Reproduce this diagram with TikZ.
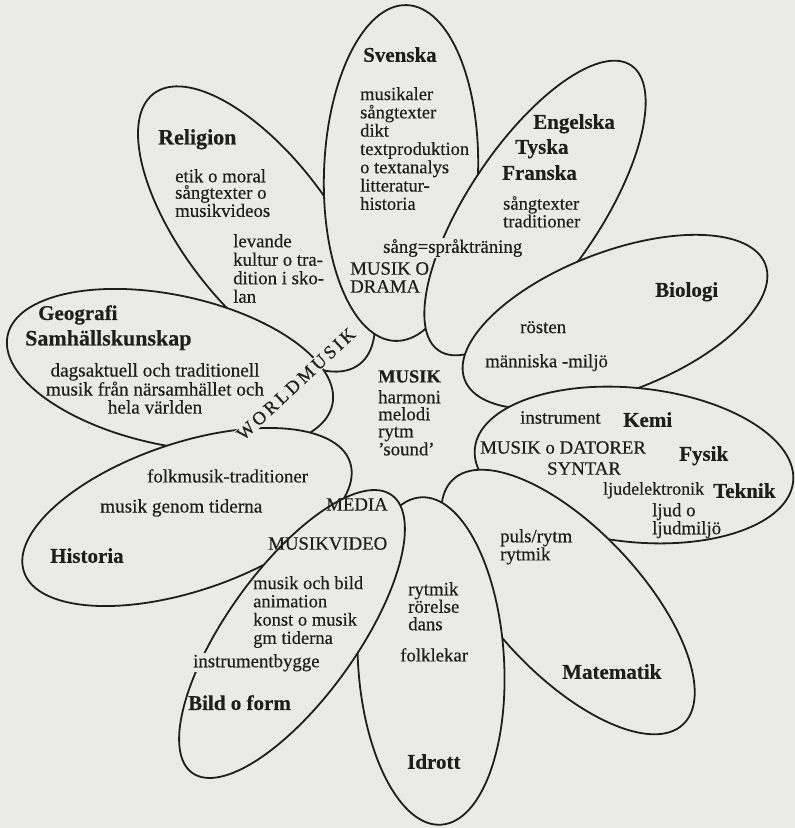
\documentclass[tikz,border=0pt]{standalone}
\usepackage{fontspec}
\setmainfont{Liberation Serif}[FakeBold=0.35]
\usetikzlibrary{shapes.geometric}
\definecolor{bg}{RGB}{234,234,232}
\definecolor{ink}{RGB}{30,30,30}
\newcommand\lsp{\kern3pt}
\begin{document}
\begin{tikzpicture}[x=1pt,y=-1pt,
  petal/.style={ellipse, draw=ink, fill=bg, line width=1.8pt, inner sep=0pt},
  body/.style={font=\fontsize{18.8}{17.5}\selectfont, align=left, inner sep=0pt, anchor=north west, text=ink},
  head/.style={font=\fontsize{21}{22}\selectfont\bfseries, inner sep=0pt, anchor=north west, text=ink},
  mask/.style={fill=bg, inner sep=1pt}]
\fill[bg] (0,0) rectangle (795,828);
\useasboundingbox (0,0) rectangle (795,828);
% petals, bottom layer first
\node[petal, minimum width=340pt, minimum height=148pt, rotate=-52.8] (religion) at (256.5,229) {};
\node[petal, minimum width=332pt, minimum height=150pt, rotate=-12] (geografi) at (170,370) {};
\node[petal, minimum width=344pt, minimum height=148pt, rotate=18.6] (historia) at (187,517) {};
\node[petal, minimum width=154pt, minimum height=336pt, rotate=-2] (svenska) at (401,173) {};
\node[petal, minimum width=344pt, minimum height=132pt, rotate=56] (engelska) at (535,208) {};
\node[petal, minimum width=322pt, minimum height=140pt, rotate=21] (biologi) at (615,322) {};
\node[petal, minimum width=320pt, minimum height=154pt, rotate=-6] (kemi) at (634,465) {};
\node[petal, minimum width=336pt, minimum height=146pt, rotate=-46.8] (matematik) at (568,602) {};
\node[petal, minimum width=146pt, minimum height=328pt, rotate=3.5] (idrott) at (431,661) {};
\node[petal, minimum width=342pt, minimum height=130pt, rotate=54.3] (bild) at (292,634) {};
% texts
\node[head, font=\fontsize{22}{22}\selectfont\bfseries] (tReligion) at (158,129) {Religion};
\node[body, font=\fontsize{18.8}{16.5}\selectfont] (tRel1) at (175,169) {etik o moral\\sångtexter o\\musikvideos};
\node[body, font=\fontsize{18.8}{18.5}\selectfont] (tRel2) at (233,234) {levande\\kultur o tra-\\dition i sko-\\lan};
\node[head] (tSvenska) at (363,47) {Svenska};
\node[body, font=\fontsize{18.5}{18.3}\selectfont] (tSv1) at (360,87) {musikaler\\sångtexter\\dikt\\textproduktion\\o textanalys\\litteratur-\\historia};
\node[head] (tEngelska) at (533,114) {Engelska};
\node[head] (tTyska) at (515,139) {Tyska};
\node[head] (tFranska) at (502,165) {Franska};
\node[body, font=\fontsize{18.5}{16}\selectfont] (tEng1) at (503,196) {sångtexter\\traditioner};
\node[body, mask, inner sep=1pt] (tSang) at (382,238) {sång=språkträning};
\node[body, font=\fontsize{18.8}{18}\selectfont] (tDrama) at (350,262) {MUSIK O\\DRAMA};
\node[font=\fontsize{18.5}{18.5}\selectfont, rotate=43, mask, text=ink] (tWorld) at (296,384)
  {W\lsp O\lsp R\lsp L\lsp D\lsp M\lsp U\lsp S\lsp I\lsp K};
\node[head] (tGeografi) at (38,305) {Geografi};
\node[head, font=\fontsize{22}{22}\selectfont\bfseries] (tSamh) at (25,330) {Samhällskunskap};
\node[body, align=center, anchor=north, font=\fontsize{19.2}{18}\selectfont] (tGeo1) at (155,363)
  {dagsaktuell och traditionell\\musik från närsamhället och\\hela världen};
\node[head] (tBiologi) at (655,282) {Biologi};
\node[body] (tRosten) at (520,321) {rösten};
\node[body] (tManniska) at (485,354) {människa -miljö};
\node[head, font=\fontsize{18.5}{19}\selectfont\bfseries] (tMusik) at (378,370) {MUSIK};
\node[body, font=\fontsize{18.8}{17}\selectfont] (tMusik1) at (378,390) {harmoni\\melodi\\rytm\\'sound'};
\node[body] (tInstr) at (520,411) {instrument};
\node[head] (tKemi) at (623,412) {Kemi};
\node[body] (tDatorer) at (480,441) {MUSIK o DATORER};
\node[head] (tFysik) at (679,446) {Fysik};
\node[body] (tSyntar) at (547,462) {SYNTAR};
\node[body, font=\fontsize{18}{18}\selectfont] (tLjudel) at (603,482) {ljudelektronik};
\node[head] (tTeknik) at (713,483) {Teknik};
\node[body, font=\fontsize{18.8}{18}\selectfont] (tLjud) at (652,503) {ljud o\\ljudmiljö};
\node[body] (tFolkmusik) at (147,469) {folkmusik-traditioner};
\node[body, font=\fontsize{19.2}{18}\selectfont] (tGenom) at (100,499) {musik genom tiderna};
\node[body] (tMedia) at (326,498) {MEDIA};
\node[body] (tVideo) at (268,537) {MUSIKVIDEO};
\node[head] (tHistoria) at (50,548) {Historia};
\node[body, font=\fontsize{18.5}{18.3}\selectfont] (tBild1) at (253,576) {musik och bild\\animation\\konst o musik\\gm tiderna};
\node[body, mask, inner sep=1pt] (tBygge) at (192,653) {instrumentbygge};
\node[head] (tBild) at (188,695) {Bild o form};
\node[body, font=\fontsize{18.8}{17}\selectfont] (tPuls) at (500,529) {puls/rytm\\rytmik};
\node[body, font=\fontsize{18.8}{17.5}\selectfont] (tRytmik) at (408,582) {rytmik\\rörelse\\dans};
\node[body] (tFolklekar) at (400,648) {folklekar};
\node[head] (tMatematik) at (562,664) {Matematik};
\node[head] (tIdrott) at (407,754) {Idrott};
\end{tikzpicture}
\end{document}
